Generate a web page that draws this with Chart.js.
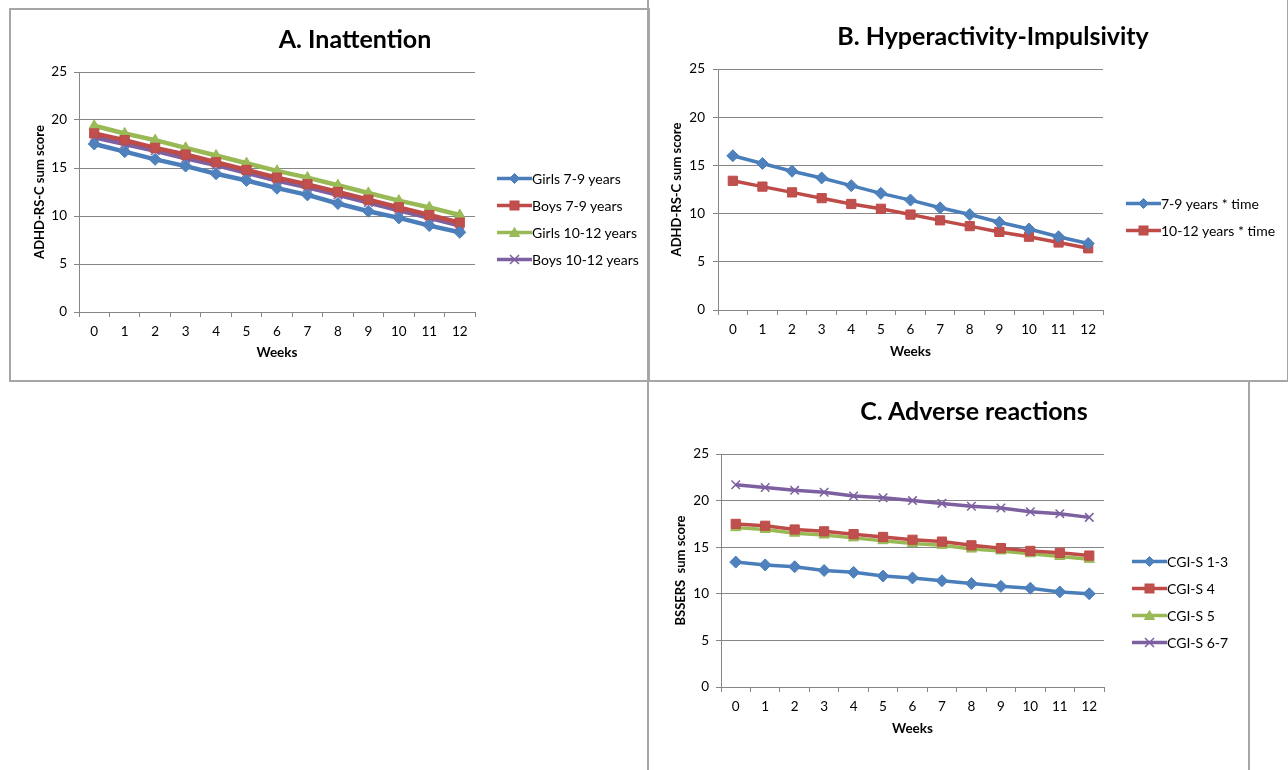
<!DOCTYPE html>
<html>
<head>
<meta charset="utf-8">
<script src="https://cdn.jsdelivr.net/npm/chart.js@4.4.1/dist/chart.umd.min.js"></script>
<style>
    body { margin: 0; background: #fff; width: 1288px; height: 770px; overflow: hidden; position: relative; font-family: Lato, sans-serif; }
    .pannello { position: absolute; border: 2px solid #a6a6a6; box-sizing: border-box; }
    canvas { position: absolute; }
    .titolo { position: absolute; font-weight: bold; font-size: 25px; color: #000; white-space: nowrap; transform: translate(-50%, -50%); }
    .legenda { position: absolute; font-size: 14px; color: #000; }
    .voce { position: absolute; display: flex; align-items: center; white-space: nowrap; transform: translateY(-50%); }
    .voce svg { display: block; }
</style>
</head>
<body>

<div class="pannello" style="left:9px; top:8px; width:641px; height:374px;"></div>
<div class="pannello" style="left:647px; top:-2px; width:642px; height:384px;"></div>
<div class="pannello" style="left:647px; top:380px; width:603px; height:400px;"></div>

<canvas id="graficoA" width="638" height="372" style="left:10px; top:9px;"></canvas>
<canvas id="graficoB" width="638" height="380" style="left:649px; top:0px;"></canvas>
<canvas id="graficoC" width="599" height="388" style="left:649px; top:382px;"></canvas>

<div class="titolo" style="left:355px; top:38px;">A. Inattention</div>
<div class="titolo" style="left:993px; top:35px;">B. Hyperactivity-Impulsivity</div>
<div class="titolo" style="left:974px; top:410px;">C. Adverse reactions</div>

<div id="legendaA" class="legenda"></div>
<div id="legendaB" class="legenda"></div>
<div id="legendaC" class="legenda"></div>

<script>
// settimane (asse x, uguale per i tre grafici)
const settimane = ["0", "1", "2", "3", "4", "5", "6", "7", "8", "9", "10", "11", "12"];

// A. Inattention
const etichetteA = ["Girls 7-9 years", "Boys 7-9 years", "Girls 10-12 years", "Boys 10-12 years"];
const ragazze79 = [17.5, 16.7, 15.9, 15.2, 14.4, 13.7, 12.9, 12.2, 11.3, 10.5, 9.8, 9.0, 8.3];
const ragazzi79 = [18.6, 17.9, 17.1, 16.4, 15.6, 14.8, 14.0, 13.3, 12.5, 11.7, 10.9, 10.1, 9.3];
const ragazze1012 = [19.4, 18.6, 17.9, 17.1, 16.3, 15.5, 14.7, 14.0, 13.2, 12.4, 11.6, 10.9, 10.1];
const ragazzi1012 = [18.2, 17.5, 16.8, 16.0, 15.3, 14.5, 13.7, 13.0, 12.2, 11.4, 10.6, 9.8, 9.0];

// B. Hyperactivity-Impulsivity
const etichetteB = ["7-9 years * time", "10-12 years * time"];
const eta79 = [16.0, 15.2, 14.4, 13.7, 12.9, 12.1, 11.4, 10.6, 9.9, 9.1, 8.4, 7.6, 6.9];
const eta1012 = [13.4, 12.8, 12.2, 11.6, 11.0, 10.5, 9.9, 9.3, 8.7, 8.1, 7.6, 7.0, 6.4];

// C. Adverse reactions
const etichetteC = ["CGI-S 1-3", "CGI-S 4", "CGI-S 5", "CGI-S 6-7"];
const cgi13 = [13.4, 13.1, 12.9, 12.5, 12.3, 11.9, 11.7, 11.4, 11.1, 10.8, 10.6, 10.2, 10.0];
const cgi4 = [17.5, 17.3, 16.9, 16.7, 16.4, 16.1, 15.8, 15.6, 15.2, 14.9, 14.6, 14.4, 14.1];
const cgi5 = [17.1, 16.9, 16.5, 16.3, 16.0, 15.7, 15.4, 15.2, 14.8, 14.6, 14.3, 14.0, 13.7];
const cgi67 = [21.7, 21.4, 21.1, 20.9, 20.5, 20.3, 20.0, 19.7, 19.4, 19.2, 18.8, 18.6, 18.2];

const tickY = [0, 5, 10, 15, 20, 25];

// colori stile Excel 2007
const linee = ["#4a7ebb", "#be4b48", "#98b954", "#7d60a0"];
const riempimenti = ["#4f81bd", "#c0504d", "#9bbb59", "#8064a2"];
const marcatori = ["rectRot", "rect", "triangle", "crossRot"];
const raggi = [6, 6.5, 6, 6];

const grigio = "#868686";

function serie(etichette, valori, spessore) {
    return valori.map(function (v, i) {
        return {
            label: etichette[i],
            data: v,
            borderColor: linee[i],
            borderWidth: spessore,
            pointStyle: marcatori[i],
            pointRadius: raggi[i],
            pointBackgroundColor: riempimenti[i],
            pointBorderColor: linee[i],
            pointBorderWidth: i === 3 ? 1.5 : 1,
            fill: false,
            tension: 0
        };
    });
}

function disegnaGrafico(id, datasets, titoloY, m) {
    const ctx = document.getElementById(id).getContext("2d");
    return new Chart(ctx, {
        type: 'line',
        data: { labels: settimane, datasets: datasets },
        options: {
            responsive: false,
            animation: false,
            layout: { padding: { left: 0, top: m.top, right: m.right, bottom: 0 } },
            plugins: {
                legend: { display: false },
                title: { display: false },
                tooltip: { enabled: false }
            },
            scales: {
                x: {
                    offset: true,
                    afterFit: function (s) { s.height = m.altezzaX; },
                    grid: { drawOnChartArea: false, drawTicks: true, tickLength: 5, offset: true, color: grigio },
                    border: { color: grigio, width: 1 },
                    ticks: { color: '#000', padding: m.padX, font: { family: 'Lato', size: 13.5 }, maxRotation: 0 },
                    title: {
                        display: true,
                        text: 'Weeks',
                        color: '#000',
                        font: { family: 'Lato', size: 13.5, weight: 'bold' },
                        padding: { top: 0, bottom: m.weeks }
                    }
                },
                y: {
                    min: 0,
                    max: 25,
                    afterFit: function (s) { s.width = m.larghezzaY; },
                    afterBuildTicks: function (s) { s.ticks = tickY.map(function (v) { return { value: v }; }); },
                    grid: { color: grigio, tickLength: 5, drawTicks: true },
                    border: { color: grigio, width: 1 },
                    ticks: { color: '#000', padding: m.padY, font: { family: 'Lato', size: 13.5 } },
                    title: {
                        display: true,
                        text: titoloY,
                        color: '#000',
                        font: { family: 'Lato', size: 13, weight: 'bold' },
                        padding: { top: m.titoloY, bottom: 0 }
                    }
                }
            }
        }
    });
}

// icona della legenda: linea con marcatore al centro
function icona(i, spessore) {
    const c = linee[i], f = riempimenti[i];
    let m = '';
    if (marcatori[i] === 'rectRot') m = '<polygon points="17.5,1 22.5,6 17.5,11 12.5,6" fill="' + f + '" stroke="' + c + '"/>';
    if (marcatori[i] === 'rect') m = '<rect x="13" y="1.5" width="9" height="9" fill="' + f + '" stroke="' + c + '"/>';
    if (marcatori[i] === 'triangle') m = '<polygon points="17.5,1 22.5,10 12.5,10" fill="' + f + '" stroke="' + c + '"/>';
    if (marcatori[i] === 'crossRot') m = '<path d="M13,1.5 L22,10.5 M22,1.5 L13,10.5" stroke="' + c + '" stroke-width="1.5"/>';
    return '<svg width="35" height="12" viewBox="0 0 35 12"><line x1="0" y1="6" x2="35" y2="6" stroke="' + c + '" stroke-width="' + spessore + '"/>' + m + '</svg>';
}

function legenda(id, etichette, x, ys, spessore) {
    const box = document.getElementById(id);
    box.innerHTML = etichette.map(function (t, i) {
        return '<div class="voce" style="left:' + x + 'px; top:' + ys[i] + 'px;">' + icona(i, spessore) + '<span>' + t + '</span></div>';
    }).join('');
}

document.addEventListener("DOMContentLoaded", function () {
    disegnaGrafico("graficoA", serie(etichetteA, [ragazze79, ragazzi79, ragazze1012, ragazzi1012], 4.5), "ADHD-RS-C sum score",
        { top: 63, right: 173, altezzaX: 69, larghezzaY: 69, padX: 7, padY: 7, weeks: 20, titoloY: 22 });
    disegnaGrafico("graficoB", serie(etichetteB, [eta79, eta1012], 3.5), "ADHD-RS-C sum score",
        { top: 69, right: 184, altezzaX: 70, larghezzaY: 69, padX: 7, padY: 8, weeks: 20, titoloY: 20 });
    disegnaGrafico("graficoC", serie(etichetteC, [cgi13, cgi4, cgi5, cgi67], 3.5), "BSSERS  sum score",
        { top: 72, right: 144, altezzaX: 83, larghezzaY: 72, padX: 7, padY: 7, weeks: 33, titoloY: 24 });

    legenda("legendaA", etichetteA, 497, [178, 205, 232, 259], 3.5);
    legenda("legendaB", etichetteB, 1126, [203, 230], 3.5);
    legenda("legendaC", etichetteC, 1132, [561, 588, 615, 642], 3.5);
});
</script>
</body>
</html>
